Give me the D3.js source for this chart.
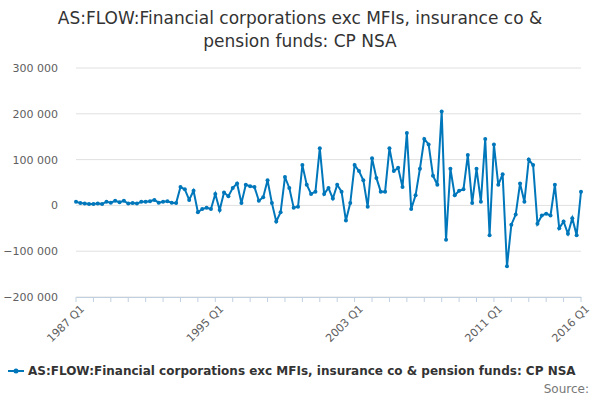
<!DOCTYPE html>
<html>
<head>
<meta charset="utf-8">
<style>
body { margin: 0; background: #fff; }
svg text { font-family: "DejaVu Sans", sans-serif; }
.grid line { stroke: #e0e0e0; }
.axis text { fill: #606060; font-size: 11px; }
</style>
</head>
<body>
<script src="https://cdn.jsdelivr.net/npm/d3@7"></script>
<script>
var years = d3.range(1987, 2017);
var periods = [];
years.forEach(function (y) { for (var q = 1; q <= 4; q++) if (y < 2016 || q === 1) periods.push(y + " Q" + q); });

// thousands
var values = [
  8, 5, 4, 3, 3, 4, 3, 8, 6, 10, 7, 10, 4, 5, 4, 8, 8, 9, 12, 6, 8, 9, 6, 5,
  40, 35, 12, 32, -15, -8, -5, -8, 25, -10, 28, 20, 38, 48, 5, 45,
  42, 40, 10, 18, 55, 5, -35, -15, 62, 38, -5, -3, 88, 45, 25, 30,
  125, 25, 38, 15, 45, 30, -33, 5, 88, 75, 55, -3, 103, 60, 30, 30,
  125, 75, 82, 40, 158, -8, 22, 80, 145, 133, 65, 45, 205, -75, 80, 22,
  32, 35, 110, 5, 80, 8, 145, -65, 133, 45, 68, -133, -42, -20, 48, 8,
  100, 88, -40, -22, -18, -22, 45, -50, -35, -62, -28, -65, 30
].map(function (v) { return v * 1000; });

var yTicks = [-200000, -100000, 0, 100000, 200000, 300000];
var xTicks = ["1987 Q1", "1995 Q1", "2003 Q1", "2011 Q1", "2016 Q1"];
var title = ["AS:FLOW:Financial corporations exc MFIs, insurance co &", "pension funds: CP NSA"];
var seriesName = "AS:FLOW:Financial corporations exc MFIs, insurance co & pension funds: CP NSA";
var colour = "#0077bb";

var svg = d3.select("body").append("svg").attr("width", 600).attr("height", 400);

svg.selectAll("text.title").data(title).enter().append("text")
  .attr("x", 300).attr("y", function (d, i) { return 24 + i * 23; })
  .attr("text-anchor", "middle").style("font-size", "17px").style("fill", "#333")
  .text(function (d) { return d; });

var x = d3.scalePoint().domain(periods).range([76, 581]);
var y = d3.scaleLinear().domain([-200000, 300000]).range([297, 68]);
var fmt = function (d) { return d3.format(",")(d).replace(/,/g, " ").replace("-", "−"); };

svg.append("g").attr("class", "grid").selectAll("line").data(yTicks).enter().append("line")
  .attr("x1", 76).attr("x2", 581).attr("y1", y).attr("y2", y);

var ya = svg.append("g").attr("class", "axis").attr("transform", "translate(76,0)")
  .call(d3.axisLeft(y).tickValues(yTicks).tickFormat(fmt).tickSize(0).tickPadding(18));
ya.select(".domain").remove();

var xa = svg.append("g").attr("class", "axis").attr("transform", "translate(0,297)")
  .call(d3.axisBottom(x).tickValues(xTicks).tickSize(0).tickFormat(function (d) { return d; }));
xa.select(".domain").attr("stroke", "#c0d0e0");
xa.selectAll("text").attr("text-anchor", "end").attr("dy", "0.3em")
  .attr("transform", "translate(4,8) rotate(-45)");
svg.append("g").selectAll("line").data(periods.filter(function (d, i) { return i % 4 === 0; })).enter()
  .append("line").attr("x1", x).attr("x2", x).attr("y1", 297).attr("y2", 302).attr("stroke", "#c0d0e0");

var line = d3.line().x(function (d, i) { return x(periods[i]); }).y(function (d) { return y(d); });
svg.append("path").datum(values).attr("d", line).attr("fill", "none")
  .attr("stroke", colour).attr("stroke-width", 2);
svg.append("g").selectAll("circle").data(values).enter().append("circle")
  .attr("cx", function (d, i) { return x(periods[i]); }).attr("cy", y).attr("r", 2).attr("fill", colour);

var lg = svg.append("g").attr("transform", "translate(8,371)");
lg.append("line").attr("x1", 0).attr("x2", 16).attr("stroke", colour).attr("stroke-width", 2);
lg.append("circle").attr("cx", 8).attr("r", 2.5).attr("fill", colour);
lg.append("text").attr("x", 20).attr("y", 4).style("font-size", "12px").style("font-weight", "bold")
  .style("fill", "#333").text(seriesName);
svg.append("text").attr("x", 589).attr("y", 393).attr("text-anchor", "end")
  .style("font-size", "12px").style("fill", "#777").text("Source:");
</script>
</body>
</html>
